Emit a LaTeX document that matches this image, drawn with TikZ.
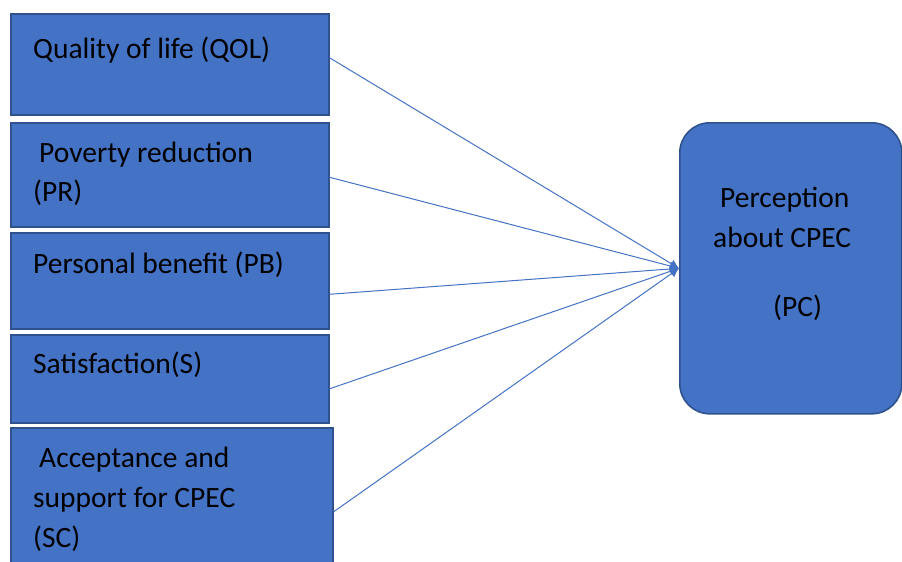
\documentclass[tikz,border=0pt]{standalone}
\usepackage{fontspec}
\setmainfont{Carlito}
\usetikzlibrary{arrows.meta}
\definecolor{boxfill}{HTML}{4472C4}
\definecolor{boxline}{HTML}{2F528F}
\tikzset{
  cbox/.style={draw=boxline, fill=boxfill, line width=1.6pt, rectangle, inner sep=0pt, anchor=north west},
  lbl/.style={anchor=base west, inner sep=0pt, font=\fontsize{29.5}{35}\selectfont, text=black},
  conn/.style={draw=boxfill, line width=1pt, -{Latex[length=9pt,width=9pt]}}
}
\begin{document}
\begin{tikzpicture}[x=1pt,y=-1pt]
\useasboundingbox (0,0) rectangle (902,562);
\node[cbox, minimum width=318pt, minimum height=101pt] (b1) at (10,13) {};
\node[cbox, minimum width=318pt, minimum height=104pt] (b2) at (10,122) {};
\node[cbox, minimum width=318pt, minimum height=96pt] (b3) at (10,232) {};
\node[cbox, minimum width=318pt, minimum height=88pt] (b4) at (10,334) {};
\node[cbox, minimum width=322pt, minimum height=150pt] (b5) at (10,427) {};
\node[cbox, rounded corners=30pt, minimum width=222pt, minimum height=291pt] (pc) at (679,122) {};

\node[lbl] (t1) at (33,58) {Quality of life (QOL)};
\node[lbl] (t2a) at (39,162) {Poverty reduction};
\node[lbl] (t2b) at (33,201) {(PR)};
\node[lbl] (t3) at (33,273) {Personal benefit (PB)};
\node[lbl] (t4) at (33,373) {Satisfaction(S)};
\node[lbl] (t5a) at (39,467) {Acceptance and};
\node[lbl] (t5b) at (33,507) {support for CPEC};
\node[lbl] (t5c) at (33,547) {(SC)};
\node[lbl] (p1) at (720,207) {Perception};
\node[lbl] (p2) at (713,247) {about CPEC};
\node[lbl] (p3) at (773,316) {(PC)};

\draw[conn] ([yshift=6.5pt]b1.east) -- (pc.west);
\draw[conn] ([yshift=-2.5pt]b2.east) -- (pc.west);
\draw[conn] ([yshift=-13.5pt]b3.east) -- (pc.west);
\draw[conn] ([yshift=-10pt]b4.east) -- (pc.west);
\draw[conn] ([yshift=-9pt]b5.east) -- (pc.west);
\end{tikzpicture}
\end{document}
